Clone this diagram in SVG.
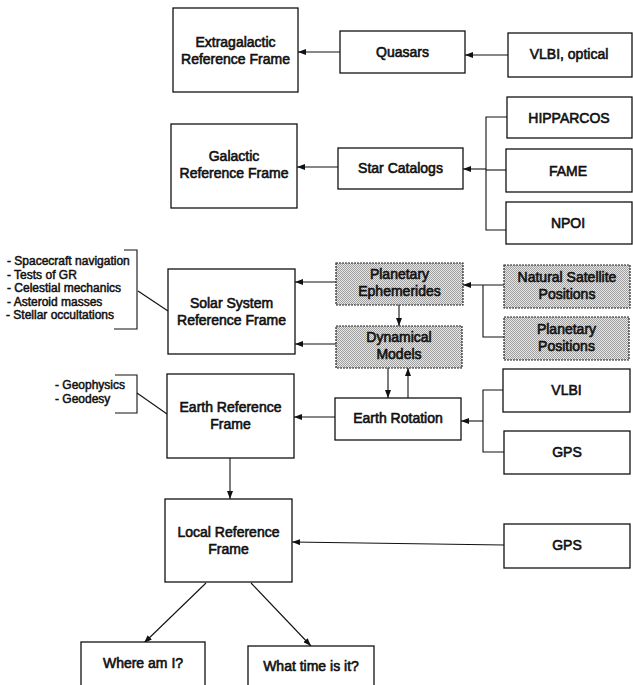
<svg xmlns="http://www.w3.org/2000/svg" width="633" height="685" viewBox="0 0 633 685">
  <style>
    .box { fill: #fff; stroke: #111; stroke-width: 1.3; }
    .shade { fill: url(#stipple); stroke: #222; stroke-width: 1.2; stroke-dasharray: 2 1; }
    .lbl { font-family: "Liberation Sans", Arial, sans-serif; font-size: 14px; fill: #111; stroke: #111; stroke-width: 0.6; text-anchor: middle; }
    .note { font-family: "Liberation Sans", Arial, sans-serif; font-size: 12px; fill: #111; stroke: #111; stroke-width: 0.5; }
    .wire { fill: none; stroke: #111; stroke-width: 1.1; }
    .arr { fill: none; stroke: #111; stroke-width: 1.1; marker-end: url(#head); }
  </style>
  <defs>
    <pattern id="stipple" width="2" height="2" patternUnits="userSpaceOnUse">
      <rect width="2" height="2" fill="#e6e6e6"/>
      <rect width="1" height="1" fill="#a0a0a0"/>
      <rect x="1" y="1" width="1" height="1" fill="#a0a0a0"/>
    </pattern>
    <marker id="head" viewBox="0 0 8 6" refX="8" refY="3" markerWidth="8" markerHeight="6" markerUnits="userSpaceOnUse" orient="auto">
      <path d="M0,0 L8,3 L0,6 z" fill="#111"/>
    </marker>
  </defs>
  <rect width="633" height="685" fill="#fff"/>

  <!-- connectors -->
  <g id="connectors">
    <line class="arr" x1="508" y1="55" x2="465" y2="55"/>
    <line class="arr" x1="340" y1="52" x2="298" y2="52"/>
    <polyline class="wire" points="507,117 486,117 486,230 506,230"/>
    <line class="wire" x1="486" y1="170" x2="507" y2="170"/>
    <line class="arr" x1="486" y1="169" x2="463" y2="169"/>
    <line class="arr" x1="338" y1="167" x2="297" y2="167"/>
    <line class="arr" x1="336" y1="282" x2="295" y2="282"/>
    <line class="arr" x1="336" y1="344" x2="295" y2="344"/>
    <line class="arr" x1="504" y1="285" x2="463" y2="285"/>
    <polyline class="wire" points="483,285 483,337 504,337"/>
    <line class="arr" x1="399" y1="305" x2="399" y2="326"/>
    <line class="arr" x1="388" y1="368" x2="388" y2="398"/>
    <line class="arr" x1="408" y1="398" x2="408" y2="368"/>
    <polyline class="wire" points="503,390 483,390 483,452 504,452"/>
    <line class="arr" x1="483" y1="421" x2="461" y2="421"/>
    <line class="arr" x1="335" y1="417" x2="294" y2="417"/>
    <line class="arr" x1="230" y1="458" x2="230" y2="499"/>
    <line class="arr" x1="504" y1="545" x2="292" y2="542"/>
    <line class="arr" x1="206" y1="583" x2="144" y2="643"/>
    <line class="arr" x1="251" y1="583" x2="311" y2="646"/>
    <!-- note brackets -->
    <polyline class="wire" points="124,250 137,250 137,329 114,329"/>
    <line class="wire" x1="138" y1="291" x2="168" y2="311"/>
    <polyline class="wire" points="115,375 137,375 137,413 115,413"/>
    <line class="wire" x1="137" y1="393" x2="167" y2="414"/>
  </g>

  <g id="extragalactic">
    <rect class="box" x="173" y="8" width="125" height="84"/>
    <text class="lbl" x="235.5" y="47">Extragalactic</text>
    <text class="lbl" x="235.5" y="64">Reference Frame</text>
  </g>
  <g id="quasars">
    <rect class="box" x="340" y="31" width="125" height="42"/>
    <text class="lbl" x="402.5" y="57">Quasars</text>
  </g>
  <g id="vlbi-optical">
    <rect class="box" x="508" y="33" width="124" height="44"/>
    <text class="lbl" x="569" y="59">VLBI, optical</text>
  </g>

  <g id="galactic">
    <rect class="box" x="171" y="124" width="126" height="84"/>
    <text class="lbl" x="234" y="161">Galactic</text>
    <text class="lbl" x="234" y="178">Reference Frame</text>
  </g>
  <g id="star-catalogs">
    <rect class="box" x="338" y="148" width="125" height="41"/>
    <text class="lbl" x="400.5" y="173">Star Catalogs</text>
  </g>
  <g id="hipparcos">
    <rect class="box" x="507" y="97" width="125" height="41"/>
    <text class="lbl" x="569" y="123">HIPPARCOS</text>
  </g>
  <g id="fame">
    <rect class="box" x="506" y="149" width="126" height="43"/>
    <text class="lbl" x="568" y="176">FAME</text>
  </g>
  <g id="npoi">
    <rect class="box" x="506" y="202" width="126" height="42"/>
    <text class="lbl" x="568" y="228">NPOI</text>
  </g>

  <g id="solar-system">
    <rect class="box" x="168" y="269" width="127" height="85"/>
    <text class="lbl" x="231.5" y="308">Solar System</text>
    <text class="lbl" x="231.5" y="325">Reference Frame</text>
  </g>
  <g id="solar-notes">
    <text class="note" x="7" y="265">- Spacecraft navigation</text>
    <text class="note" x="7" y="278.5">- Tests of GR</text>
    <text class="note" x="7" y="292">- Celestial mechanics</text>
    <text class="note" x="7" y="305.5">- Asteroid masses</text>
    <text class="note" x="6" y="319">- Stellar occultations</text>
  </g>
  <g id="planetary-ephemerides">
    <rect class="shade" x="336" y="263" width="127" height="42"/>
    <text class="lbl" x="399.5" y="279">Planetary</text>
    <text class="lbl" x="399.5" y="296">Ephemerides</text>
  </g>
  <g id="natural-satellite">
    <rect class="shade" x="504" y="265" width="126" height="43"/>
    <text class="lbl" x="567" y="282">Natural Satellite</text>
    <text class="lbl" x="567" y="299">Positions</text>
  </g>
  <g id="dynamical-models">
    <rect class="shade" x="336" y="326" width="126" height="42"/>
    <text class="lbl" x="399" y="342">Dynamical</text>
    <text class="lbl" x="399" y="359">Models</text>
  </g>
  <g id="planetary-positions">
    <rect class="shade" x="504" y="317" width="125" height="43"/>
    <text class="lbl" x="566.5" y="334">Planetary</text>
    <text class="lbl" x="566.5" y="351">Positions</text>
  </g>

  <g id="earth-frame">
    <rect class="box" x="167" y="374" width="127" height="84"/>
    <text class="lbl" x="230.5" y="412">Earth Reference</text>
    <text class="lbl" x="230.5" y="429">Frame</text>
  </g>
  <g id="earth-notes">
    <text class="note" x="55" y="389">- Geophysics</text>
    <text class="note" x="55" y="403">- Geodesy</text>
  </g>
  <g id="earth-rotation">
    <rect class="box" x="335" y="398" width="126" height="42"/>
    <text class="lbl" x="398" y="423">Earth Rotation</text>
  </g>
  <g id="vlbi">
    <rect class="box" x="503" y="369" width="127" height="43"/>
    <text class="lbl" x="566.5" y="395">VLBI</text>
  </g>
  <g id="gps-earth">
    <rect class="box" x="504" y="431" width="126" height="43"/>
    <text class="lbl" x="567" y="457">GPS</text>
  </g>

  <g id="local-frame">
    <rect class="box" x="165" y="499" width="127" height="83"/>
    <text class="lbl" x="228.5" y="537">Local Reference</text>
    <text class="lbl" x="228.5" y="554">Frame</text>
  </g>
  <g id="gps-local">
    <rect class="box" x="504" y="524" width="126" height="44"/>
    <text class="lbl" x="567" y="550">GPS</text>
  </g>

  <g id="where">
    <rect class="box" x="81" y="642" width="124" height="50"/>
    <text class="lbl" x="143" y="668">Where am I?</text>
  </g>
  <g id="when">
    <rect class="box" x="248" y="646" width="126" height="50"/>
    <text class="lbl" x="311" y="671">What time is it?</text>
  </g>
</svg>
